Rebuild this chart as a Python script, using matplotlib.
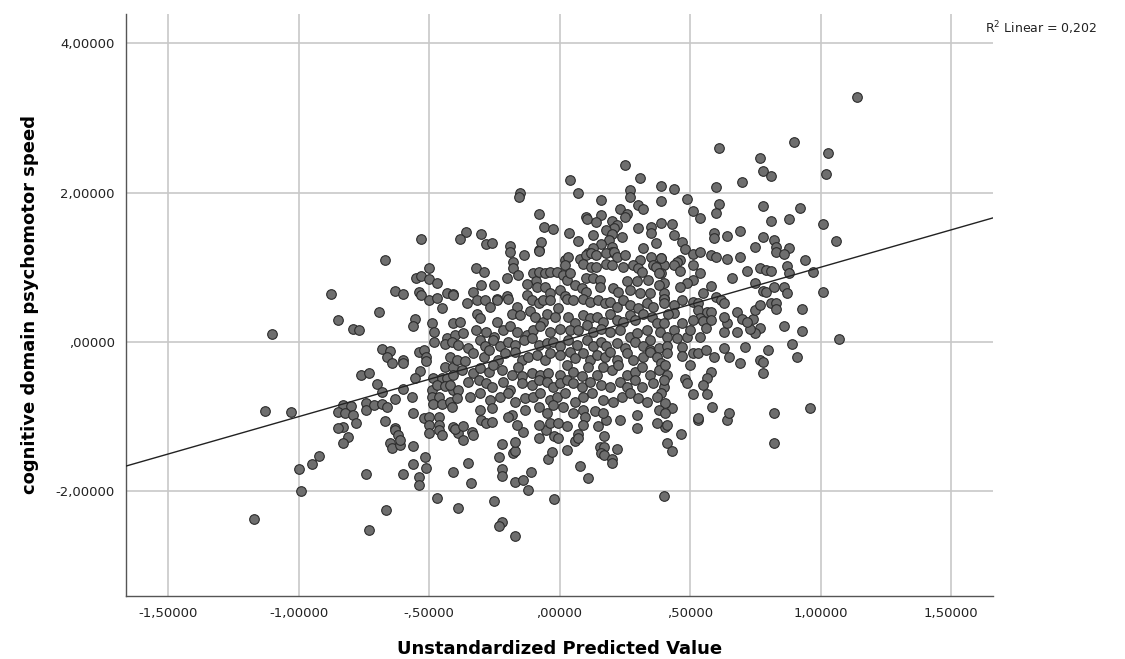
import numpy as np
import matplotlib
matplotlib.use("Agg")
import matplotlib.pyplot as plt

# axis ticks and labels
x_ticks = [-1.5, -1.0, -0.5, 0.0, 0.5, 1.0, 1.5]
x_tick_labels = ["-1,50000", "-1,00000", "-,50000", ",00000", ",50000", "1,00000", "1,50000"]
y_ticks = [-2.0, 0.0, 2.0, 4.0]
y_tick_labels = ["-2,00000", ",00000", "2,00000", "4,00000"]

# fit line and R2 label
fit_intercept = 0.0
fit_slope = 1.0
r2_text = "R$^2$ Linear = 0,202"

# points, (predicted value, psychomotor speed), grouped by area
upper_right = [
    (1.14, 3.28), (0.61, 2.60), (0.90, 2.68), (1.03, 2.53), (0.77, 2.46), (0.78, 2.29), (0.81, 2.22),
    (1.02, 2.25), (0.70, 2.14), (0.60, 2.07), (0.44, 2.05), (0.39, 2.09), (0.49, 1.91), (0.61, 1.85),
    (0.60, 1.73), (0.78, 1.82), (0.92, 1.79), (0.51, 1.75), (0.54, 1.66), (0.81, 1.62), (0.88, 1.64),
    (1.01, 1.58), (0.39, 1.89), (0.39, 1.59), (0.43, 1.58), (0.44, 1.43), (0.47, 1.34), (0.48, 1.24),
    (0.59, 1.46), (0.59, 1.39), (0.64, 1.42), (0.69, 1.49), (0.78, 1.40), (0.75, 1.27), (0.82, 1.36),
    (0.83, 1.27), (0.83, 1.20), (0.88, 1.26), (0.86, 1.18), (1.06, 1.35), (0.51, 1.18), (0.54, 1.20),
    (0.58, 1.16), (0.69, 1.14), (0.64, 1.11), (0.94, 1.10), (0.46, 1.10), (0.39, 1.12), (0.60, 1.14),
]

upper_mid = [
    (0.25, 2.37), (0.04, 2.17), (0.31, 2.19), (-0.15, 1.99), (-0.155, 1.94), (0.07, 2.00), (0.27, 2.03),
    (0.27, 1.94), (0.16, 1.90), (0.30, 1.83), (0.32, 1.78), (0.23, 1.78), (0.26, 1.71), (0.25, 1.67),
    (-0.08, 1.71), (0.10, 1.67), (0.105, 1.64), (0.16, 1.70), (0.14, 1.60), (0.20, 1.62), (0.22, 1.57),
    (0.21, 1.52), (0.18, 1.50), (0.30, 1.52), (0.35, 1.54), (0.35, 1.46), (-0.06, 1.54), (-0.025, 1.51),
    (0.035, 1.46), (0.13, 1.43), (0.20, 1.44), (0.19, 1.36), (0.24, 1.40), (-0.08, 1.23), (-0.07, 1.34),
    (0.07, 1.35), (0.16, 1.31), (0.13, 1.26), (0.20, 1.27), (0.20, 1.20), (0.11, 1.19), (0.37, 1.32),
    (0.32, 1.26), (-0.36, 1.47), (-0.38, 1.38), (-0.30, 1.44), (-0.28, 1.31), (-0.26, 1.32), (-0.19, 1.28),
    (-0.53, 1.38), (-0.67, 1.10),
]

left_mid = [
    (-0.50, 0.99), (-0.55, 0.86), (-0.53, 0.88), (-0.50, 0.84), (-0.47, 0.79), (-0.875, 0.64), (-0.63, 0.68),
    (-0.60, 0.64), (-0.54, 0.67), (-0.53, 0.63), (-0.50, 0.56), (-0.47, 0.59), (-0.43, 0.66), (-0.41, 0.64),
    (-0.45, 0.45), (-0.69, 0.40), (-0.85, 0.29), (-0.79, 0.17), (-0.77, 0.16), (-1.10, 0.11), (-0.555, 0.31),
    (-0.56, 0.21), (-0.49, 0.25), (-0.48, 0.13), (-0.48, 0.00), (-0.43, 0.05), (-0.44, -0.03), (-0.68, -0.09),
    (-0.65, -0.12), (-0.66, -0.20), (-0.64, -0.28), (-0.60, -0.24), (-0.60, -0.28), (-0.54, -0.13),
    (-0.52, -0.11), (-0.51, -0.20), (-0.51, -0.25), (-0.44, -0.33), (-0.41, -0.33), (-0.535, -0.39),
    (-0.76, -0.44), (-0.73, -0.41), (-0.555, -0.48), (-0.485, -0.48), (-0.45, -0.48), (-0.43, -0.48),
    (-0.70, -0.56), (-0.68, -0.67), (-0.60, -0.63), (-0.49, -0.64), (-0.47, -0.58), (-0.44, -0.59),
    (-0.41, -0.64), (-0.63, -0.76), (-0.565, -0.74), (-0.49, -0.74), (-0.46, -0.74), (-0.485, -0.83),
    (-0.45, -0.83), (-0.42, -0.80), (-1.13, -0.92), (-1.03, -0.94), (-0.83, -0.84), (-0.80, -0.86),
    (-0.85, -0.94), (-0.82, -0.95), (-0.79, -0.98), (-0.78, -1.08), (-0.83, -1.14), (-0.85, -1.15),
    (-0.74, -0.82), (-0.74, -0.91), (-0.71, -0.84), (-0.68, -0.83), (-0.66, -0.87), (-0.56, -0.95),
    (-0.67, -1.06), (-0.52, -1.02), (-0.50, -1.00), (-0.46, -1.00), (-0.50, -1.11), (-0.46, -1.11),
    (-0.41, -1.14), (-0.63, -1.15),
]

lower_left = [
    (-0.81, -1.27), (-0.83, -1.35), (-0.63, -1.18), (-0.62, -1.24), (-0.65, -1.35), (-0.64, -1.42),
    (-0.61, -1.38), (-0.61, -1.31), (-0.56, -1.39), (-0.515, -1.54), (-0.51, -1.69), (-0.56, -1.63),
    (-0.60, -1.77), (-0.54, -1.81), (-0.54, -1.91), (-0.50, -1.22), (-0.46, -1.18), (-0.45, -1.24),
    (-0.39, -1.22), (-1.00, -1.70), (-0.95, -1.63), (-0.92, -1.52), (-0.74, -1.77), (-0.99, -1.99),
    (-1.17, -2.37), (-0.665, -2.25), (-0.73, -2.51), (-0.47, -2.09), (-0.41, -1.74), (-0.39, -2.22),
]

lower_mid = [
    (-0.25, -2.13), (-0.22, -2.41), (-0.23, -2.46), (-0.17, -2.60), (-0.02, -2.10), (0.40, -2.06),
    (-0.35, -1.62), (-0.34, -1.89), (-0.23, -1.54), (-0.22, -1.70), (-0.22, -1.79), (-0.17, -1.87),
    (-0.14, -1.85), (-0.11, -1.74), (-0.12, -1.98), (-0.22, -1.37), (-0.18, -1.49), (-0.17, -1.46),
    (-0.17, -1.34), (-0.14, -1.20), (-0.08, -1.28), (-0.045, -1.57), (-0.03, -1.47), (-0.02, -1.26),
    (-0.005, -1.28), (-0.05, -1.18), (0.03, -1.44), (0.06, -1.32), (0.07, -1.23), (0.07, -1.28),
    (0.08, -1.66), (0.11, -1.82), (0.17, -1.26), (0.155, -1.40), (0.17, -1.40), (0.16, -1.49),
    (0.17, -1.51), (0.20, -1.57), (0.20, -1.62), (0.22, -1.43), (0.18, -1.04), (0.405, -1.14),
    (0.41, -1.35), (-0.40, -1.16), (-0.335, -1.20), (-0.37, -1.31), (-0.33, -1.24),
    (0.465, -1.23), (0.43, -1.46), (0.82, -1.35), (0.53, -1.04),
]

right_mid = [
    (0.97, 0.93), (1.01, 0.67), (1.07, 0.04), (0.93, 0.44), (0.93, 0.15), (0.86, 0.21), (0.89, -0.03),
    (0.91, -0.20), (0.96, -0.88), (0.82, -0.95), (0.78, -0.41), (0.77, -0.24), (0.78, -0.27), (0.80, -0.11),
    (0.71, -0.07), (0.69, -0.28), (0.65, -0.20), (0.63, -0.08), (0.77, 0.19), (0.75, 0.12), (0.73, 0.17),
    (0.74, 0.31), (0.68, 0.13), (0.63, 0.13), (0.64, 0.25), (0.63, 0.33), (0.68, 0.40), (0.70, 0.31),
    (0.72, 0.27), (0.75, 0.43), (0.77, 0.49), (0.81, 0.52), (0.83, 0.52), (0.83, 0.44), (0.78, 0.68),
    (0.79, 0.67), (0.82, 0.74), (0.86, 0.74), (0.87, 0.66), (0.75, 0.79), (0.72, 0.95), (0.77, 0.99),
    (0.79, 0.96), (0.81, 0.95), (0.87, 1.02), (0.88, 0.92), (0.66, 0.86), (0.58, 0.75), (0.55, 0.66),
    (0.60, 0.60), (0.62, 0.56), (0.63, 0.52), (0.51, 1.03), (0.54, 0.92), (0.51, 0.83), (0.49, 0.79),
    (0.46, 0.74), (0.45, 1.07), (0.44, 1.03), (0.46, 0.95), (0.40, 0.59), (0.47, 0.56), (0.44, 0.49),
    (0.44, 0.39), (0.51, 0.54), (0.53, 0.52), (0.53, 0.43), (0.565, 0.40), (0.58, 0.40), (0.54, 0.32),
    (0.51, 0.29), (0.55, 0.28), (0.58, 0.29), (0.47, 0.25), (0.44, 0.16), (0.45, 0.05), (0.49, 0.07),
    (0.50, 0.16), (0.54, 0.07), (0.56, 0.19), (0.47, -0.07), (0.47, -0.19), (0.51, -0.15), (0.53, -0.15),
    (0.56, -0.11), (0.59, -0.20), (0.50, -0.31), (0.58, -0.40), (0.565, -0.48), (0.55, -0.58),
    (0.48, -0.50), (0.49, -0.55), (0.51, -0.70), (0.565, -0.70), (0.585, -0.87), (0.43, -0.88),
    (0.53, -1.02), (0.64, -1.04), (0.65, -0.95), (0.41, -0.44), (0.40, -0.60), (0.39, -0.68),
    (0.41, -1.11), (0.40, 1.03), (0.39, 0.92), (0.40, 0.79), (0.40, 0.66),
]

center = [
    (-0.19, 1.21), (-0.136, 1.16), (-0.08, 1.22), (0.02, 1.10), (0.034, 1.14), (0.08, 1.11), (0.10, 1.16),
    (0.12, 1.19), (0.14, 1.16), (0.18, 1.19), (0.21, 1.21), (0.22, 1.14), (0.25, 1.16), (0.31, 1.10),
    (0.35, 1.14), (0.39, 1.12), (0.36, 1.03), (0.02, 1.03),
    (-0.32, 0.99), (-0.29, 0.94), (-0.18, 1.07), (-0.18, 0.99), (-0.16, 0.90), (-0.20, 0.85), (-0.10, 0.92),
    (-0.09, 0.81), (-0.08, 0.94), (-0.055, 0.92), (-0.036, 0.94), (-0.01, 0.94), (0.015, 0.90), (0.027, 0.83),
    (0.04, 0.92), (0.09, 1.05), (0.12, 1.01), (0.14, 1.01), (0.18, 1.05), (0.20, 1.03), (0.245, 1.01),
    (0.28, 1.03), (0.30, 0.99), (0.315, 0.94), (0.37, 1.01), (0.38, 0.92), (0.10, 0.85), (0.13, 0.85),
    (0.155, 0.83),
    (-0.41, 0.63), (-0.33, 0.67), (-0.30, 0.76), (-0.25, 0.76), (-0.24, 0.58), (-0.20, 0.61), (-0.126, 0.78),
    (-0.087, 0.74), (-0.055, 0.74), (-0.036, 0.65), (0.002, 0.70), (0.02, 0.61), (0.06, 0.76), (0.085, 0.72),
    (0.10, 0.67), (0.155, 0.74), (0.206, 0.72), (0.225, 0.67), (0.257, 0.81), (0.296, 0.81), (0.34, 0.83),
    (0.38, 0.76), (0.347, 0.65), (0.31, 0.65), (0.27, 0.70), (0.40, 0.58),
    (-0.356, 0.52), (-0.317, 0.56), (-0.285, 0.56), (-0.266, 0.47), (-0.24, 0.56), (-0.196, 0.58),
    (-0.164, 0.47), (-0.126, 0.63), (-0.107, 0.56), (-0.08, 0.52), (-0.062, 0.56), (-0.036, 0.56),
    (-0.004, 0.45), (0.027, 0.58), (0.053, 0.56), (0.091, 0.58), (0.117, 0.54), (0.149, 0.56), (0.174, 0.52),
    (0.194, 0.54), (0.219, 0.47), (0.245, 0.56), (0.27, 0.49), (0.30, 0.45), (0.334, 0.52), (0.36, 0.47),
    (0.40, 0.52), (0.417, 0.38),
    (-0.41, 0.25), (-0.38, 0.27), (-0.317, 0.38), (-0.305, 0.32), (-0.24, 0.27), (-0.183, 0.38), (-0.15, 0.36),
    (-0.113, 0.41), (-0.094, 0.34), (-0.062, 0.27), (-0.049, 0.38), (-0.017, 0.34), (0.034, 0.34), (0.06, 0.25),
    (0.091, 0.36), (0.117, 0.32), (0.142, 0.34), (0.168, 0.27), (0.194, 0.38), (0.219, 0.29), (0.245, 0.27),
    (0.27, 0.36), (0.29, 0.29), (0.32, 0.38), (0.353, 0.34), (0.372, 0.25), (0.40, 0.25),
    (-0.40, 0.09), (-0.37, 0.12), (-0.32, 0.16), (-0.28, 0.14), (-0.25, 0.07), (-0.215, 0.16), (-0.19, 0.21),
    (-0.164, 0.14), (-0.126, 0.09), (-0.10, 0.16), (-0.075, 0.21), (-0.036, 0.14), (0.002, 0.18), (0.04, 0.16),
    (0.072, 0.16), (0.104, 0.23), (0.13, 0.14), (0.16, 0.18), (0.194, 0.14), (0.232, 0.16), (0.27, 0.07),
    (0.296, 0.12), (0.334, 0.16), (0.347, 0.03), (0.385, 0.14), (0.41, 0.07),
    (-0.413, 0.00), (-0.39, -0.04), (-0.35, -0.085), (-0.305, 0.03), (-0.285, -0.06), (-0.253, 0.03),
    (-0.228, -0.06), (-0.196, 0.00), (-0.17, -0.04), (-0.138, 0.03), (-0.107, 0.05), (-0.08, -0.04),
    (-0.049, -0.02), (-0.024, 0.00), (0.002, -0.06), (0.034, 0.03), (0.066, -0.04), (0.104, 0.03),
    (0.13, -0.06), (0.16, 0.00), (0.18, -0.06), (0.219, -0.02), (0.25, -0.085), (0.29, 0.00), (0.32, -0.06),
    (0.347, -0.107), (0.38, -0.085), (0.41, -0.06),
    (-0.42, -0.196), (-0.394, -0.24), (-0.362, -0.26), (-0.33, -0.15), (-0.29, -0.196), (-0.27, -0.107),
    (-0.234, -0.24), (-0.209, -0.15), (-0.17, -0.13), (-0.145, -0.24), (-0.12, -0.196), (-0.087, -0.174),
    (-0.055, -0.24), (-0.036, -0.15), (0.002, -0.174), (0.04, -0.13), (0.06, -0.22), (0.091, -0.15),
    (0.117, -0.24), (0.142, -0.174), (0.174, -0.196), (0.194, -0.13), (0.219, -0.24), (0.257, -0.15),
    (0.283, -0.24), (0.32, -0.196), (0.347, -0.13), (0.372, -0.196), (0.39, -0.285), (0.41, -0.15),
    (-0.41, -0.44), (-0.375, -0.375), (-0.33, -0.42), (-0.305, -0.35), (-0.27, -0.40), (-0.253, -0.31),
    (-0.22, -0.375), (-0.183, -0.44), (-0.158, -0.33), (-0.145, -0.46), (-0.107, -0.42), (-0.075, -0.44),
    (-0.043, -0.42), (0.002, -0.44), (0.027, -0.31), (0.053, -0.40), (0.085, -0.46), (0.11, -0.33),
    (0.142, -0.44), (0.168, -0.33), (0.20, -0.375), (0.225, -0.31), (0.257, -0.44), (0.29, -0.40),
    (0.315, -0.33), (0.347, -0.44), (0.38, -0.375), (0.404, -0.31),
    (-0.42, -0.575), (-0.39, -0.64), (-0.35, -0.53), (-0.31, -0.51), (-0.28, -0.553), (-0.26, -0.60),
    (-0.215, -0.53), (-0.19, -0.64), (-0.145, -0.553), (-0.107, -0.575), (-0.08, -0.51), (-0.049, -0.53),
    (-0.024, -0.60), (0.002, -0.553), (0.027, -0.51), (0.053, -0.553), (0.085, -0.60), (0.117, -0.53),
    (0.16, -0.575), (0.194, -0.60), (0.232, -0.53), (0.257, -0.60), (0.29, -0.51), (0.315, -0.60),
    (0.36, -0.553), (0.40, -0.51),
    (-0.394, -0.754), (-0.343, -0.73), (-0.305, -0.687), (-0.266, -0.776), (-0.228, -0.73), (-0.196, -0.687),
    (-0.17, -0.80), (-0.132, -0.754), (-0.10, -0.73), (-0.075, -0.687), (-0.036, -0.776), (-0.011, -0.73),
    (0.02, -0.687), (0.06, -0.80), (0.091, -0.73), (0.123, -0.687), (0.168, -0.776), (0.206, -0.80),
    (0.238, -0.73), (0.27, -0.687), (0.30, -0.754), (0.334, -0.80), (0.372, -0.73), (0.404, -0.82),
    (-0.413, -0.865), (-0.305, -0.91), (-0.26, -0.887), (-0.183, -0.977), (-0.132, -0.91), (-0.08, -0.865),
    (-0.049, -0.954), (-0.024, -0.843), (0.015, -0.865), (0.053, -0.954), (0.091, -0.91), (0.098, -1.00),
    (0.136, -0.93), (0.168, -0.954), (0.232, -1.04), (0.296, -0.977), (0.38, -0.91), (0.404, -0.954),
    (-0.37, -1.13), (-0.30, -1.04), (-0.28, -1.09), (-0.26, -1.07), (-0.196, -1.00), (-0.164, -1.11),
    (-0.08, -1.11), (-0.036, -1.09), (-0.004, -1.09), (0.027, -1.13), (0.091, -1.11), (0.149, -1.13),
    (0.296, -1.15), (0.372, -1.09),
]

pts = np.array(upper_right + upper_mid + left_mid + lower_left + lower_mid + right_mid + center)
pred = pts[:, 0]
speed = pts[:, 1]

fig = plt.figure(figsize=(11.25, 6.59), dpi=100)
ax = fig.add_axes([0.112, 0.0956, 0.7707, 0.8832])

ax.set_xlim(-1.661, 1.661)
ax.set_ylim(-3.40, 4.39)

ax.set_xticks(x_ticks)
ax.set_xticklabels(x_tick_labels)
ax.set_yticks(y_ticks)
ax.set_yticklabels(y_tick_labels)
ax.tick_params(length=0, labelsize=9.5, colors="#222222", pad=8)

ax.grid(True, color="#c8c8c8", linewidth=1.2)
ax.set_axisbelow(True)
for side in ["top", "right"]:
    ax.spines[side].set_visible(False)
for side in ["left", "bottom"]:
    ax.spines[side].set_color("#555555")
    ax.spines[side].set_linewidth(1.0)

ax.scatter(pred, speed, s=48, c="#6e6e6e", edgecolors="#2b2b2b", linewidths=0.8, zorder=3)

line_x = np.array(ax.get_xlim())
ax.plot(line_x, fit_intercept + fit_slope * line_x, color="#222222", linewidth=1.0, zorder=4)

ax.set_xlabel("Unstandardized Predicted Value", fontsize=13, fontweight="bold", labelpad=14)
ax.set_ylabel("cognitive domain psychomotor speed", fontsize=13, fontweight="bold", labelpad=12)

fig.text(0.8756, 0.9575, r2_text, fontsize=9, va="center", ha="left", color="#222222")

fig.savefig("out.png", dpi=100)
